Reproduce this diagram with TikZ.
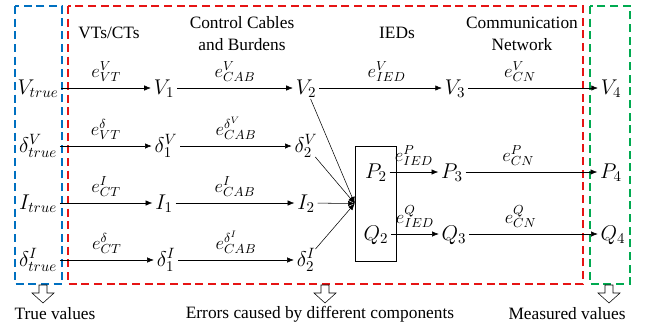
\RequirePackage{fix-cm}
\documentclass[tikz,border=0pt]{standalone}
\usepackage{fontspec}
\setmainfont{Liberation Serif}
\newfontfamily\capfont{Liberation Serif}
\usetikzlibrary{arrows.meta}
\definecolor{regblue}{RGB}{0,112,192}
\definecolor{regred}{RGB}{230,20,20}
\definecolor{reggreen}{RGB}{0,170,80}

\begin{document}
\begin{tikzpicture}
[x=0.75pt,y=-0.75pt,>={Latex[length=5pt,width=4pt]},
 var/.style={font=\fontsize{16}{18}\selectfont,text height=11pt,text depth=1pt,inner sep=2pt},
 lbl/.style={above=1pt,font=\fontsize{14}{16}\selectfont},
 hdr/.style={font=\capfont\fontsize{13}{16.5}\selectfont,align=center},
 region/.style={line width=1.1pt,dash pattern=on 6pt off 3.5pt}]
\useasboundingbox (0,0) rectangle (646,326);
% dashed regions
\draw[region,regblue] (15,6) rectangle (62,284);
\draw[region,regred] (68,6) rectangle (583,284);
\draw[region,reggreen] (590,6) rectangle (630,284);
% headers
\node[hdr] (vtct) at (109,33) {VTs/CTs};
\node[hdr] (cab) at (242,34) {Control Cables\\and Burdens};
\node[hdr] (ieds) at (397,33) {IEDs};
\node[hdr] (cn) at (522,34) {Communication\\Network};
% voltage
\node[var] (vt) at (38,88) {$V_{true}$};
\node[var] (v1) at (164,88) {$V_1$};
\node[var] (v2) at (306,88) {$V_2$};
\node[var] (v3) at (455,88) {$V_3$};
\node[var] (v4) at (611,88) {$V_4$};
\node[var] (dvt) at (38,146) {$\delta^{V}_{true}$};
\node[var] (dv1) at (166,146) {$\delta^{V}_1$};
\node[var] (dv2) at (306,146) {$\delta^{V}_2$};
% current
\node[var] (it) at (38,203) {$I_{true}$};
\node[var] (i1) at (164,203) {$I_1$};
\node[var] (i2) at (306,203) {$I_2$};
\node[var] (dit) at (38,260) {$\delta^{I}_{true}$};
\node[var] (di1) at (166,260) {$\delta^{I}_1$};
\node[var] (di2) at (306,260) {$\delta^{I}_2$};
% IED box
\node[draw,minimum width=30.75pt,minimum height=86.25pt] (box) at (375.5,203.5) {};
\node[var] (p2) at (376,172) {$P_2$};
\node[var] (q2) at (376,234) {$Q_2$};
\node[var] (p3) at (452,172) {$P_3$};
\node[var] (q3) at (454,234) {$Q_3$};
\node[var] (p4) at (611,172) {$P_4$};
\node[var] (q4) at (613,234) {$Q_4$};
\draw[->] (vt) to node[lbl]{$e^{V}_{VT}$} (v1);
\draw[->] (v1) to node[lbl]{$e^{V}_{CAB}$} (v2);
\draw[->] (v2) to node[lbl,pos=0.55]{$e^{V}_{IED}$} (v3);
\draw[->] (v3) to node[lbl,pos=0.4]{$e^{V}_{CN}$} (v4);
\draw[->] (dvt) to node[lbl]{$e^{\delta}_{VT}$} (dv1);
\draw[->] (dv1) to node[lbl]{$e^{\delta^{V}}_{CAB}$} (dv2);
\draw[->] (it) to node[lbl]{$e^{I}_{CT}$} (i1);
\draw[->] (i1) to node[lbl]{$e^{I}_{CAB}$} (i2);
\draw[->] (dit) to node[lbl]{$e^{\delta}_{CT}$} (di1);
\draw[->] (di1) to node[lbl]{$e^{\delta^{I}}_{CAB}$} (di2);
\draw[->,thin] (v2) to (box.west);
\draw[->,thin] (dv2) to (box.west);
\draw[->,thin] (i2) to (box.west);
\draw[->,thin] (di2) to (box.west);
\draw[->] (p2) to node[lbl]{$e^{P}_{IED}$} (p3);
\draw[->] (q2) to node[lbl]{$e^{Q}_{IED}$} (q3);
\draw[->] (p3) to node[lbl,pos=0.4]{$e^{P}_{CN}$} (p4);
\draw[->] (q3) to node[lbl,pos=0.4]{$e^{Q}_{CN}$} (q4);
% hollow arrows and captions
\foreach \x in {43,325,609}
  \draw (\x-4,285) -- (\x+4,285) -- (\x+4,293) -- (\x+11,293) -- (\x,303)
    -- (\x-11,293) -- (\x-4,293) -- cycle;
\node[hdr] (tv) at (55,314) {True values};
\node[hdr] (err) at (320,314) {Errors caused by different components};
\node[hdr] (mv) at (567,314) {Measured values};
\end{tikzpicture}
\end{document}
